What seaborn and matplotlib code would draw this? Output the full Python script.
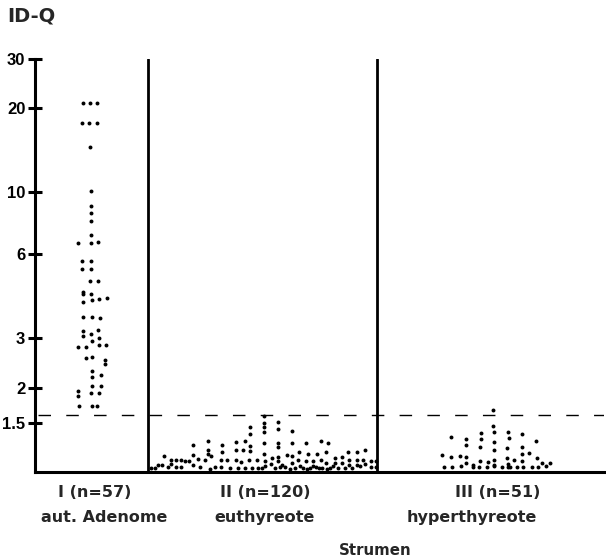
import matplotlib
matplotlib.use("Agg")
import matplotlib.pyplot as plt
from matplotlib.ticker import NullLocator, FixedLocator, FixedFormatter
import seaborn as sns
import pandas as pd

# ---------------- data (horizontal dot position, ID-Q value) ----------------
group_names = ["I", "II", "III"]
group_labels = ["I (n=57)", "II (n=120)", "III (n=51)"]
group_subtitles = ["aut. Adenome", "euthyreote", "hyperthyreote"]
axis_title = "Strumen"
y_title = "ID-Q"
threshold = 1.6
y_ticks = [1.5, 2, 3, 6, 10, 20, 30]
y_tick_labels = ["1.5", "2", "3", "6", "10", "20", "30"]

g1_x = [82.7, 89.7, 96.7, 82, 89, 97, 90, 90.6, 90.6, 90.6, 90.6, 90.6,
        77.7, 90.6, 97.7, 82.3, 91, 82.3, 91, 90.3, 97.7, 83, 83, 91,
        83, 92, 99, 106.7, 83, 92, 99.7, 82.7, 82.7, 91, 97.7, 99, 91.7,
        77.7, 85.7, 99.3, 106, 86, 92.3, 105, 104.7, 91.7, 91.7, 101,
        91.7, 100.7, 78.3, 78.3, 91, 99, 79.3, 92, 96.7]
g1_v = [20.8, 20.8, 20.8, 17.7, 17.7, 17.7, 14.5, 10.1, 8.9, 8.4, 7.9, 7.06,
        6.6, 6.6, 6.65, 5.68, 5.68, 5.33, 5.33, 4.80, 4.80, 4.39, 4.31, 4.33,
        4.05, 4.10, 4.15, 4.18, 3.57, 3.57, 3.55, 3.20, 3.07, 3.10, 3.22, 3.01, 2.93,
        2.80, 2.80, 2.83, 2.85, 2.55, 2.57, 2.51, 2.42, 2.29, 2.18, 2.21,
        2.02, 2.02, 1.94, 1.87, 1.91, 1.91, 1.72, 1.72, 1.72]

g2_x = [264, 264, 264, 264, 278, 278, 250, 250, 292,
        192.7, 208.3, 221.7, 235.7, 245, 250, 264, 278, 278, 292, 306, 321, 327.7,
        208.3, 208.3, 221.7, 235.7, 243.3, 250,
        164, 192.7, 264, 278, 286.7, 299.3, 308.3, 316.7, 326, 348.3, 357.3, 365.3, 341.7,
        198, 211.3, 271.7, 291.7, 335,
        170.7, 175.7, 181.3, 188.7, 204.7, 220.7, 226.7, 235.7, 249.3, 256.7,
        265, 278.3, 298.3, 306, 320.7, 349.3, 356.7, 363.3, 371, 376, 312.7, 241, 185,
        158, 162, 170.7, 193, 270.7, 281.7, 291.7, 326, 335, 341.7, 349.3, 356.7, 365,
        151.3, 154.7, 168, 175.7, 181.3, 199.7, 209.7, 214.7, 220.7, 230, 238, 245,
        252, 258, 262, 275, 285, 295, 303, 310, 316, 322, 330, 338, 345, 360, 371, 376,
        265, 280, 290, 300, 307, 313, 319, 327, 333, 352]
g2_v = [1.58, 1.50, 1.44, 1.39, 1.51, 1.42, 1.44, 1.37, 1.40,
        1.25, 1.29, 1.25, 1.28, 1.29, 1.24, 1.27, 1.27, 1.23, 1.27, 1.27, 1.29, 1.265,
        1.20, 1.155, 1.18, 1.20, 1.20, 1.19,
        1.14, 1.145, 1.155, 1.125, 1.148, 1.178, 1.155, 1.155, 1.178, 1.178, 1.178, 1.20, 1.13,
        1.11, 1.14, 1.12, 1.14, 1.12,
        1.097, 1.097, 1.097, 1.095, 1.097, 1.097, 1.097, 1.097, 1.097, 1.097,
        1.092, 1.092, 1.097, 1.095, 1.097, 1.097, 1.097, 1.097, 1.092, 1.092, 1.088, 1.081, 1.09,
        1.058, 1.058, 1.062, 1.060, 1.062, 1.053, 1.073, 1.070, 1.070, 1.070, 1.055, 1.055, 1.062,
        1.030, 1.035, 1.038, 1.038, 1.038, 1.038, 1.026, 1.038, 1.038, 1.030, 1.032, 1.034,
        1.030, 1.034, 1.028, 1.032, 1.036, 1.030, 1.034, 1.030, 1.036, 1.030, 1.034, 1.030, 1.034, 1.045, 1.040, 1.040,
        1.045, 1.040, 1.025, 1.044, 1.026, 1.044, 1.028, 1.026, 1.044, 1.030]

g3_x = [493.3, 493.3, 494, 450.7, 466, 466, 480.7, 480.7, 480, 494, 494,
        508.3, 509.3, 507.3, 522.3, 522.3, 522.3, 536, 529.3, 536.7,
        441.7, 450.7, 460, 466, 466, 480, 494, 507.3, 514, 521.7, 541.7, 550, 546,
        444, 451.7, 460.7, 473.3, 479.3, 487.3, 494, 501.7, 508.3, 510, 517.3,
        523.3, 531.7, 538.3,
        487.7, 494.3, 508.3, 473.3]
g3_v = [1.66, 1.458, 1.39, 1.332, 1.314, 1.247, 1.38, 1.314, 1.227, 1.28, 1.20,
        1.39, 1.317, 1.215, 1.37, 1.227, 1.156, 1.29, 1.166, 1.118,
        1.148, 1.132, 1.139, 1.13, 1.078, 1.088, 1.10, 1.124, 1.10, 1.09, 1.07, 1.078, 1.045,
        1.041, 1.041, 1.045, 1.041, 1.041, 1.041, 1.045, 1.041, 1.041, 1.041, 1.041,
        1.041, 1.041, 1.041,
        1.085, 1.06, 1.065, 1.055]

df = pd.DataFrame({
    "x": g1_x + g2_x + g3_x,
    "ID-Q": g1_v + g2_v + g3_v,
    "group": ["I"] * len(g1_x) + ["II"] * len(g2_x) + ["III"] * len(g3_x),
})

# ---------------- style ----------------
sns.set_style("white")
plt.rcParams["font.family"] = ["Liberation Sans", "DejaVu Sans"]
wide = ["DejaVu Sans"]

W, H = 606, 559
fig = plt.figure(figsize=(W / 100, H / 100), dpi=100)
ax = fig.add_axes([35 / W, (H - 471.7) / H, (604 - 35) / W, (471.7 - 59) / H])

sns.scatterplot(data=df, x="x", y="ID-Q", color="black", s=8, linewidth=0,
                legend=False, ax=ax, zorder=3)

ax.set_yscale("log")
ax.set_ylim(1.0, 30)
ax.set_xlim(35, 604)

ax.yaxis.set_major_locator(FixedLocator(y_ticks))
ax.yaxis.set_major_formatter(FixedFormatter(y_tick_labels))
ax.yaxis.set_minor_locator(NullLocator())
ax.tick_params(axis="y", which="major", left=True, direction="inout", length=10,
               width=2.2, pad=2, labelsize=12, colors="black")
for lab in ax.get_yticklabels():
    lab.set_fontweight("bold")
ax.set_xticks([])
ax.set_xlabel("")
ax.set_ylabel("")

for side in ["top", "right"]:
    ax.spines[side].set_visible(False)
ax.spines["left"].set_linewidth(2.2)
ax.spines["bottom"].set_linewidth(2.2)
ax.spines["left"].set_color("black")
ax.spines["bottom"].set_color("black")

# group separators
for xs in [148.3, 377]:
    ax.axvline(xs, color="black", lw=2.0, zorder=2)

# threshold dashed line
ax.axhline(threshold, xmin=0.005, color="black", lw=1.0, dashes=(9, 11), zorder=1)

# texts
fig.text(7 / W, 1 - 21 / H, y_title, fontsize=14, fontweight="bold", va="baseline",
         ha="left", family=wide)
label_x = [58, 220, 455]
sub_x = [41, 214, 407]
for lx, sx, lab, sub in zip(label_x, sub_x, group_labels, group_subtitles):
    fig.text(lx / W, 1 - 497 / H, lab, fontsize=11.5, fontweight="bold", va="baseline",
             ha="left", family=wide)
    fig.text(sx / W, 1 - 522 / H, sub, fontsize=11.5, fontweight="bold", va="baseline",
             ha="left", family=wide)
fig.text(375 / W, 1 - 555 / H, axis_title, fontsize=10.8, fontweight="bold",
         va="baseline", ha="center", family=wide)

fig.savefig("out.png", dpi=100, facecolor="white")
